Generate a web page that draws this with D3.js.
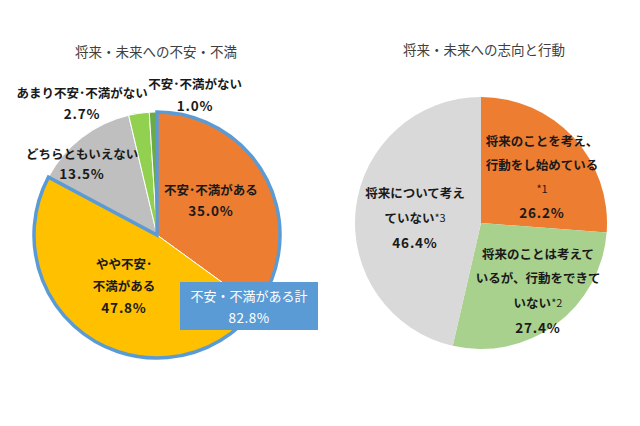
<!DOCTYPE html>
<html><head><meta charset="utf-8">
<script src="https://cdn.jsdelivr.net/npm/d3@7"></script>
<style>
html,body{margin:0;padding:0;background:#fff;}
svg{display:block;font-family:"Noto Sans CJK JP","Noto Sans",sans-serif;}
</style></head>
<body>
<svg id="c" width="640" height="426"></svg>
<script>
// ---- data ----
const leftTitle = "将来・未来への不安・不満";
const leftCategories = [["不安･不満がある"], ["やや不安･", "不満がある"], ["どちらともいえない"], ["あまり不安･不満がない"], ["不安･不満がない"]];
const leftValues = [35.0, 47.8, 13.5, 2.7, 1.0];
const leftColors = ["#ED7D31", "#FFC000", "#BFBFBF", "#92D050", "#6AAB46"];
const totalLabel = "不安・不満がある計";
const totalValue = 82.8;

const rightTitle = "将来・未来への志向と行動";
const rightCategories = [["将来のことを考え、", "行動をし始めている", ["", "*1"]], ["将来のことは考えて", "いるが、行動をできて", ["いない", "*2"]], ["将来について考え", ["ていない", "*3"]]];
const rightValues = [26.2, 27.4, 46.4];
const rightColors = ["#ED7D31", "#A9D18E", "#D9D9D9"];

// ---- layout ----
const svg = d3.select("#c");
const L = {cx: 157, cy: 235, r: 123};
const R = {cx: 481, cy: 223, r: 126};
// label anchor offsets from the pie center (first line), and line spacing
const leftLabelPos = [[54, -46, 21], [-33, 28, 22], [-75, -82, 20], [-75, -143, 21], [38, -152, 22]];
const rightLabelPos = [[61, -83, 24], [57, 30, 24.5], [-66, -31, 25]];

const fmt = v => v.toFixed(1) + "%";

function title(x, y, t) {
  svg.append("text").attr("x", x).attr("y", y).attr("text-anchor", "middle")
    .attr("dominant-baseline", "central").attr("font-size", 13.5).attr("fill", "#404040").text(t);
}
title(156, 51, leftTitle);
title(484, 49, rightTitle);

const pie = d3.pie().sort(null).value(d => d);

// left pie
const gL = svg.append("g").attr("transform", `translate(${L.cx},${L.cy})`);
const arcL = d3.arc().innerRadius(0).outerRadius(L.r);
const arcsL = pie(leftValues);
gL.selectAll("path.s").data(arcsL).join("path").attr("class", "s")
  .attr("d", arcL).attr("fill", (d, i) => leftColors[i])
  .attr("stroke", "#fff").attr("stroke-width", 1);
// outline around the "ある" total (first two slices)
const totalEnd = arcsL[1].endAngle;
gL.append("path")
  .attr("d", d3.arc().innerRadius(0).outerRadius(L.r)({startAngle: 0, endAngle: totalEnd}))
  .attr("fill", "none").attr("stroke", "#5B9BD5").attr("stroke-width", 3.5).attr("stroke-linejoin", "miter");

function lines(g, x, y, ls, pct, step) {
  const all = ls.concat([pct]);
  all.forEach((ln, i) => {
    const t = g.append("text").attr("x", x).attr("y", y + i * step).attr("text-anchor", "middle")
      .attr("dominant-baseline", "central").attr("font-weight", "bold").attr("fill", "#1a1a1a");
    if (Array.isArray(ln)) {
      t.append("tspan").attr("font-size", 12.5).text(ln[0]);
      t.append("tspan").attr("font-size", 11).attr("font-weight", "normal").text(ln[1]);
    } else {
      const isPct = ln === pct;
      t.attr("font-size", isPct ? 13.5 : 12.5).attr("letter-spacing", isPct ? 0.8 : 0).text(ln);
    }
  });
}
leftCategories.forEach((c, i) => {
  const p = leftLabelPos[i];
  lines(gL, p[0], p[1], c, fmt(leftValues[i]), p[2]);
});

// total box
const box = svg.append("g");
box.append("rect").attr("x", 180).attr("y", 282).attr("width", 138).attr("height", 48).attr("fill", "#5B9BD5");
box.append("text").attr("x", 249).attr("y", 295).attr("text-anchor", "middle").attr("dominant-baseline", "central")
  .attr("font-size", 13).attr("fill", "#fff").text(totalLabel);
box.append("text").attr("x", 249).attr("y", 317).attr("text-anchor", "middle").attr("dominant-baseline", "central")
  .attr("font-size", 13.5).attr("letter-spacing", 0.5).attr("fill", "#fff").text(fmt(totalValue));

// right pie
const gR = svg.append("g").attr("transform", `translate(${R.cx},${R.cy})`);
const arcR = d3.arc().innerRadius(0).outerRadius(R.r);
gR.selectAll("path").data(pie(rightValues)).join("path")
  .attr("d", arcR).attr("fill", (d, i) => rightColors[i]);
rightCategories.forEach((c, i) => {
  const p = rightLabelPos[i];
  lines(gR, p[0], p[1], c, fmt(rightValues[i]), p[2]);
});
</script>
</body></html>
